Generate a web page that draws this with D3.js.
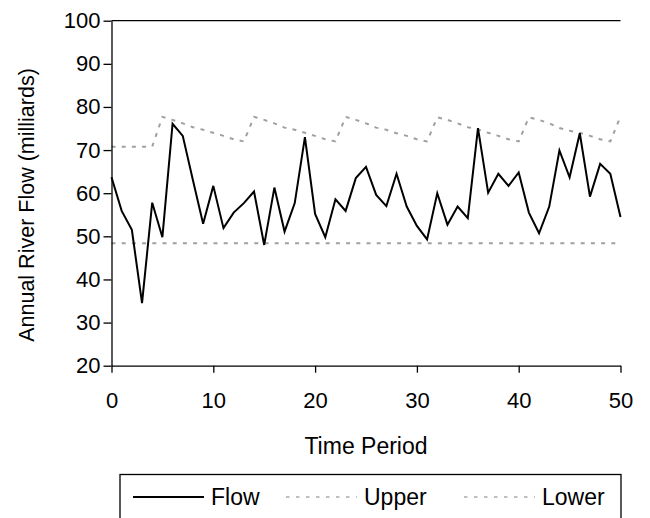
<!DOCTYPE html>
<html>
<head>
<meta charset="utf-8">
<script src="https://cdn.jsdelivr.net/npm/d3@7"></script>
<style>
  html, body { margin: 0; padding: 0; background: #fff; }
  #chart { width: 650px; height: 518px; }
  text { font-family: "Liberation Sans", Arial, sans-serif; fill: #000; }
</style>
</head>
<body>
<div id="chart"></div>
<script>
// Annual river flow per time period, with control limits
const flow = [
  63.7, 55.9, 51.5, 34.5, 57.8, 49.8, 76.1, 73.3, 63.0, 52.9,
  61.7, 51.9, 55.5, 57.7, 60.4, 48.0, 61.3, 51.1, 57.7, 73.0,
  55.2, 49.8, 58.6, 55.9, 63.5, 66.1, 59.6, 57.0, 64.5, 56.9,
  52.4, 49.3, 60.0, 52.7, 56.9, 54.2, 75.1, 60.1, 64.5, 61.7,
  64.8, 55.5, 50.7, 56.9, 69.9, 63.7, 73.9, 59.2, 66.8, 64.5,
  54.5
];
const upper = [
  70.8, 70.8, 70.8, 70.8, 70.8, 77.7, 77.0, 76.2, 75.3, 74.7,
  74.0, 73.3, 72.5, 72.0, 77.7, 77.0, 76.2, 75.2, 74.7, 74.0,
  73.3, 72.5, 72.0, 77.7, 77.0, 76.2, 75.2, 74.7, 73.9, 73.3,
  72.5, 72.0, 77.6, 77.0, 76.2, 75.3, 74.8, 74.0, 73.3, 72.5,
  72.0, 77.6, 77.0, 76.2, 75.1, 74.5, 74.0, 73.3, 72.5, 72.0,
  77.8
];
const lower = [
  48.4, 48.4, 48.4, 48.4, 48.4, 48.4, 48.4, 48.4, 48.4, 48.4,
  48.4, 48.4, 48.4, 48.4, 48.4, 48.4, 48.4, 48.4, 48.4, 48.4,
  48.4, 48.4, 48.4, 48.4, 48.4, 48.4, 48.4, 48.4, 48.4, 48.4,
  48.4, 48.4, 48.4, 48.4, 48.4, 48.4, 48.4, 48.4, 48.4, 48.4,
  48.4, 48.4, 48.4, 48.4, 48.4, 48.4, 48.4, 48.4, 48.4, 48.4,
  48.4
];
const xTicks = [0, 10, 20, 30, 40, 50];
const yTicks = [20, 30, 40, 50, 60, 70, 80, 90, 100];
const seriesNames = ['Flow', 'Upper', 'Lower'];

const W = 650, H = 518;
const plot = { left: 111.5, right: 620.5, top: 20.7, bottom: 365.7 };
const tickFont = 22;
const titleFont = 23;

const svg = d3.select('#chart')
  .append('svg')
  .attr('width', W)
  .attr('height', H);

const x = d3.scaleLinear().domain([0, 50]).range([plot.left, plot.right]);
const y = d3.scaleLinear().domain([20, 100]).range([plot.bottom, plot.top]);

const line = d3.line()
  .x((d, i) => x(i))
  .y(d => y(d));

// top border of plot area
svg.append('line')
  .attr('x1', plot.left).attr('x2', plot.right)
  .attr('y1', plot.top).attr('y2', plot.top)
  .attr('stroke', '#000')
  .attr('stroke-width', 1.3);

// control limits
const dashed = { stroke: '#a0a0a0', width: 2, dash: '4,6.2' };
[lower, upper].forEach(s => {
  svg.append('path')
    .datum(s)
    .attr('d', line)
    .attr('fill', 'none')
    .attr('stroke', dashed.stroke)
    .attr('stroke-width', dashed.width)
    .attr('stroke-dasharray', dashed.dash);
});

// flow series
svg.append('path')
  .datum(flow)
  .attr('d', line)
  .attr('fill', 'none')
  .attr('stroke', '#000')
  .attr('stroke-width', 2)
  .attr('stroke-linejoin', 'miter');

// Y axis
const yAxis = svg.append('g')
  .attr('transform', `translate(${plot.left},0)`)
  .call(d3.axisLeft(y).tickValues(yTicks).tickSizeInner(8).tickSizeOuter(0).tickPadding(3));
yAxis.select('.domain').attr('stroke', '#000').attr('stroke-width', 1.3);
yAxis.selectAll('.tick line').attr('stroke', '#000').attr('stroke-width', 1.3);
yAxis.selectAll('text')
  .style('font-size', tickFont + 'px')
  .style('font-family', '"Liberation Sans", Arial, sans-serif')
  .attr('fill', '#000');

// X axis
const xAxis = svg.append('g')
  .attr('transform', `translate(0,${plot.bottom})`)
  .call(d3.axisBottom(x).tickValues(xTicks).tickSizeInner(7).tickSizeOuter(0).tickPadding(20));
xAxis.select('.domain').attr('stroke', '#000').attr('stroke-width', 1.3);
xAxis.selectAll('.tick line').attr('stroke', '#000').attr('stroke-width', 1.3);
xAxis.selectAll('text')
  .style('font-size', tickFont + 'px')
  .style('font-family', '"Liberation Sans", Arial, sans-serif')
  .attr('fill', '#000');

// axis titles
svg.append('text')
  .attr('x', (plot.left + plot.right) / 2)
  .attr('y', 446)
  .attr('dy', '0.35em')
  .attr('text-anchor', 'middle')
  .style('font-size', titleFont + 'px')
  .text('Time Period');

svg.append('text')
  .attr('transform', `translate(26,205) rotate(-90)`)
  .attr('dy', '0.35em')
  .attr('text-anchor', 'middle')
  .style('font-size', '21.5px')
  .text('Annual River Flow (milliards)');

// legend
const legend = svg.append('g');
legend.append('rect')
  .attr('x', 120).attr('y', 474.5)
  .attr('width', 501).attr('height', 60)
  .attr('fill', '#fff')
  .attr('stroke', '#000')
  .attr('stroke-width', 1.3);

const legendItems = [
  { name: seriesNames[0], x0: 133, stroke: '#000', width: 2, dash: null },
  { name: seriesNames[1], x0: 286, stroke: '#aaaaaa', width: 1.5, dash: '3.5,6.5' },
  { name: seriesNames[2], x0: 464, stroke: '#aaaaaa', width: 1.5, dash: '3.5,6.5' }
];
const legendY = 497;
legendItems.forEach(d => {
  legend.append('line')
    .attr('x1', d.x0).attr('x2', d.x0 + 71)
    .attr('y1', legendY).attr('y2', legendY)
    .attr('stroke', d.stroke)
    .attr('stroke-width', d.width)
    .attr('stroke-dasharray', d.dash);
  legend.append('text')
    .attr('x', d.x0 + 78)
    .attr('y', legendY)
    .attr('dy', '0.35em')
    .style('font-size', titleFont + 'px')
    .text(d.name);
});
</script>
</body>
</html>
